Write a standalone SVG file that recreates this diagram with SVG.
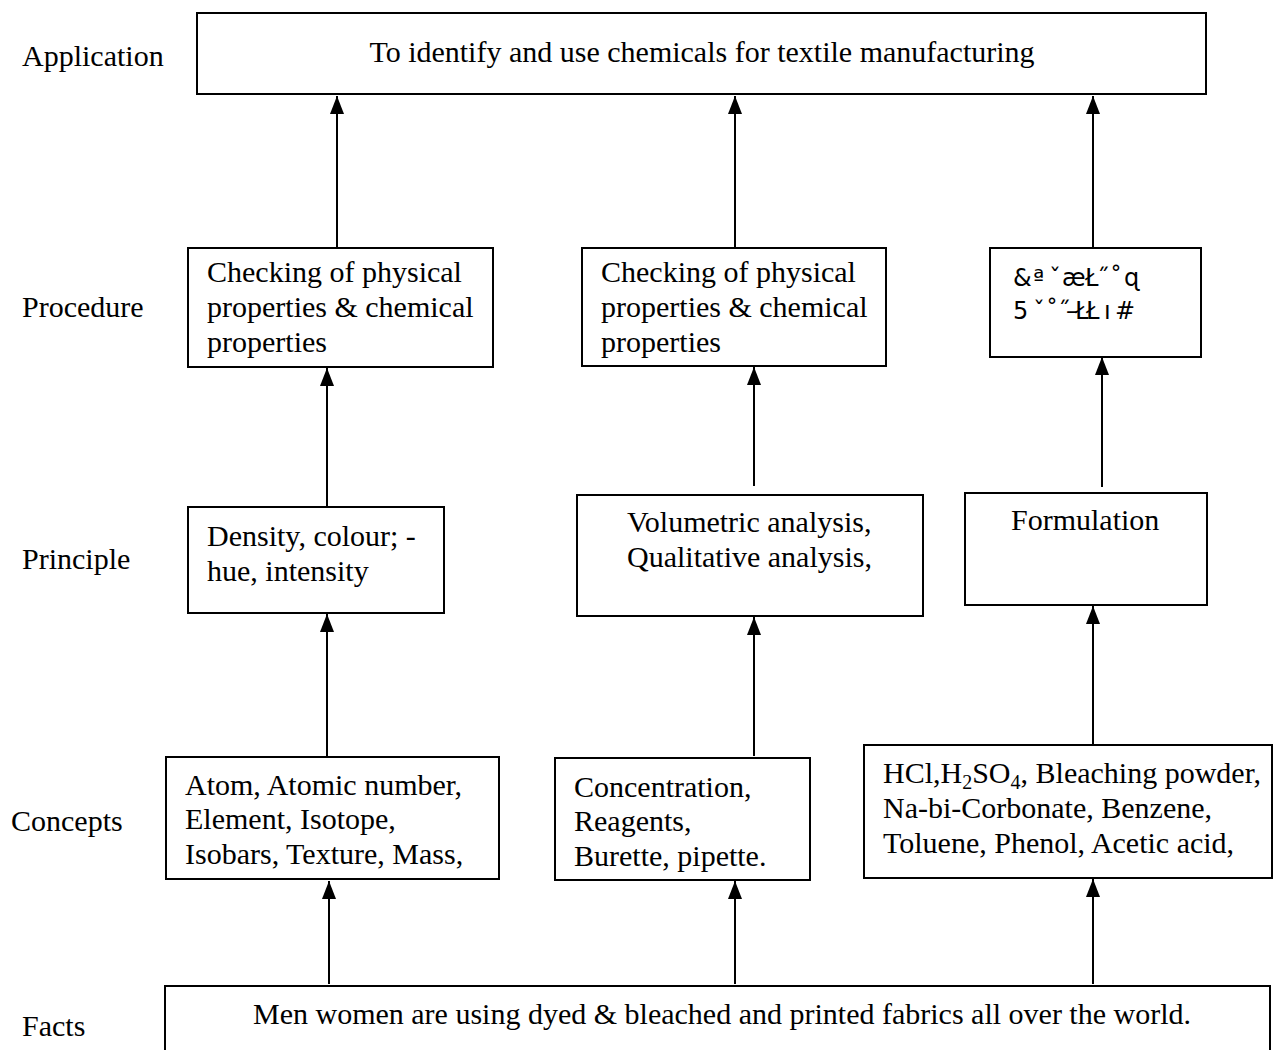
<svg xmlns="http://www.w3.org/2000/svg" width="1280" height="1050" viewBox="0 0 1280 1050">
  <style>
    .box { fill: #ffffff; stroke: #000000; stroke-width: 2; }
    .t { font-family: "Liberation Serif", "Times New Roman", serif; font-size: 30px; fill: #000000; }
    .odd { font-family: "DejaVu Sans", sans-serif; font-size: 24px; fill: #000000; }
    .wire { stroke: #000000; stroke-width: 2; fill: none; marker-end: url(#head); }
  </style>
  <defs>
    <!-- solid triangular arrowhead, tip at the end of the line -->
    <marker id="head" viewBox="0 0 18 14" refX="18" refY="7" markerWidth="18" markerHeight="14" markerUnits="userSpaceOnUse" orient="auto">
      <path d="M0,0 L18,7 L0,14 Z" fill="#000000"/>
    </marker>
  </defs>
  <rect width="1280" height="1050" fill="#ffffff"/>

  <!-- level labels -->
  <g id="labels">
    <text class="t" x="22" y="66">Application</text>
    <text class="t" x="22" y="317">Procedure</text>
    <text class="t" x="22" y="569">Principle</text>
    <text class="t" x="11" y="831">Concepts</text>
    <text class="t" x="22" y="1036">Facts</text>
  </g>

  <!-- connectors -->
  <g id="connectors">
    <path class="wire" d="M337,248 L337,96"/>
    <path class="wire" d="M735,248 L735,96"/>
    <path class="wire" d="M1093,248 L1093,96"/>

    <path class="wire" d="M327,507 L327,368"/>
    <path class="wire" d="M754,486 L754,367"/>
    <path class="wire" d="M1102,487 L1102,357"/>

    <path class="wire" d="M327,756 L327,614"/>
    <path class="wire" d="M754,756 L754,617"/>
    <path class="wire" d="M1093,745 L1093,606"/>

    <path class="wire" d="M329,984 L329,881"/>
    <path class="wire" d="M735,984 L735,881"/>
    <path class="wire" d="M1093,984 L1093,879"/>
  </g>

  <!-- application -->
  <g id="application">
    <rect class="box" x="197" y="13" width="1009" height="81"/>
    <text class="t" x="702" y="62" text-anchor="middle">To identify and use chemicals for textile manufacturing</text>
  </g>

  <!-- procedure row -->
  <g id="procedure-left">
    <rect class="box" x="188" y="248" width="305" height="119"/>
    <text class="t" x="207" y="282">Checking of physical</text>
    <text class="t" x="207" y="317">properties &amp; chemical</text>
    <text class="t" x="207" y="352">properties</text>
  </g>
  <g id="procedure-middle">
    <rect class="box" x="582" y="248" width="304" height="118"/>
    <text class="t" x="601" y="282">Checking of physical</text>
    <text class="t" x="601" y="317">properties &amp; chemical</text>
    <text class="t" x="601" y="352">properties</text>
  </g>
  <g id="procedure-right">
    <rect class="box" x="990" y="248" width="211" height="109"/>
    <text class="odd" x="1013 1033 1049 1062 1085 1097 1110 1124" y="286">&amp;ªˇæŁ˝˚ɋ</text>
    <text class="odd" x="1013 1033 1046 1058 1066 1075 1086 1104 1115" y="319">5ˇ˚˝–ŁŁı#</text>
  </g>

  <!-- principle row -->
  <g id="principle-left">
    <rect class="box" x="188" y="507" width="256" height="106"/>
    <text class="t" x="207" y="546">Density, colour; -</text>
    <text class="t" x="207" y="581">hue, intensity</text>
  </g>
  <g id="principle-middle">
    <rect class="box" x="577" y="495" width="346" height="121"/>
    <text class="t" x="627" y="532">Volumetric analysis,</text>
    <text class="t" x="627" y="567">Qualitative analysis,</text>
  </g>
  <g id="principle-right">
    <rect class="box" x="965" y="493" width="242" height="112"/>
    <text class="t" x="1011" y="530">Formulation</text>
  </g>

  <!-- concepts row -->
  <g id="concepts-left">
    <rect class="box" x="166" y="757" width="333" height="122"/>
    <text class="t" x="185" y="795">Atom, Atomic number,</text>
    <text class="t" x="185" y="829">Element, Isotope,</text>
    <text class="t" x="185" y="864">Isobars, Texture, Mass,</text>
  </g>
  <g id="concepts-middle">
    <rect class="box" x="555" y="758" width="255" height="122"/>
    <text class="t" x="574" y="797">Concentration,</text>
    <text class="t" x="574" y="831">Reagents,</text>
    <text class="t" x="574" y="866">Burette, pipette.</text>
  </g>
  <g id="concepts-right">
    <rect class="box" x="864" y="745" width="408" height="133"/>
    <text class="t" x="883" y="783">HCl,H<tspan font-size="20" dy="6">2</tspan><tspan dy="-6">SO</tspan><tspan font-size="20" dy="6">4</tspan><tspan dy="-6">, Bleaching powder,</tspan></text>
    <text class="t" x="883" y="818">Na-bi-Corbonate, Benzene,</text>
    <text class="t" x="883" y="853">Toluene, Phenol, Acetic acid,</text>
  </g>

  <!-- facts -->
  <g id="facts">
    <rect class="box" x="165" y="986" width="1105" height="80"/>
    <text class="t" x="722" y="1024" text-anchor="middle">Men women are using dyed &amp; bleached and printed fabrics all over the world.</text>
  </g>
</svg>
